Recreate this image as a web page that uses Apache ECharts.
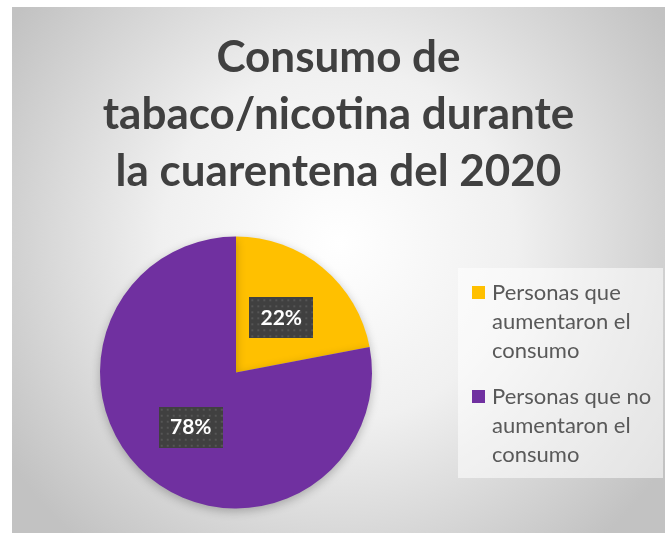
<!DOCTYPE html>
<html>
<head>
<meta charset="utf-8">
<script src="https://cdn.jsdelivr.net/npm/echarts@6/dist/echarts.min.js"></script>
<style>
html,body{margin:0;padding:0;background:#ffffff;}
#chart{position:absolute;left:12px;top:7px;width:653px;height:526px;}
</style>
</head>
<body>
<div id="chart"></div>
<script>
const titleLines = ['Consumo de', 'tabaco/nicotina durante', 'la cuarentena del 2020'];
const categories = ['Personas que aumentaron el consumo', 'Personas que no aumentaron el consumo'];
const legendLines = [['Personas que', 'aumentaron el', 'consumo'], ['Personas que no', 'aumentaron el', 'consumo']];
const values = [22, 78];
const colors = ['#FFC000', '#7030A0'];

function makePattern(w, h) {
  const c = document.createElement('canvas');
  c.width = w; c.height = h;
  const g = c.getContext('2d');
  g.fillStyle = '#404040';
  g.fillRect(0, 0, w, h);
  g.fillStyle = '#555555';
  for (let y = 2; y < h; y += 6) {
    for (let x = 2; x < w; x += 6) {
      g.fillRect(x, y, 2, 2);
    }
  }
  return c;
}
const pat = makePattern(64, 41);

// Leading blank lines keep the legend square beside the first text line
function legendText(name) {
  const lines = legendLines[categories.indexOf(name)];
  return '\n\n' + lines.join('\n');
}

const chart = echarts.init(document.getElementById('chart'));
chart.setOption({
  animation: false,
  backgroundColor: {
    type: 'radial', x: 0.5, y: 0.45, r: 0.75,
    colorStops: [
      {offset: 0, color: '#ffffff'},
      {offset: 0.45, color: '#f0f0f0'},
      {offset: 1, color: '#c2c2c2'}
    ]
  },
  title: {
    text: titleLines.join('\n'),
    left: 'center',
    top: 22,
    padding: [0, 0, 0, 13],
    textStyle: {
      fontFamily: 'Lato',
      fontWeight: 'bold',
      fontSize: 44,
      lineHeight: 57,
      color: '#404040'
    }
  },
  graphic: [{
    type: 'rect',
    left: 446, top: 261,
    shape: {width: 205, height: 210},
    style: {fill: 'rgba(255,255,255,0.55)'},
    z: -1
  }],
  legend: {
    orient: 'vertical',
    left: 460,
    top: 213,
    padding: 0,
    itemWidth: 13,
    itemHeight: 13,
    itemGap: -41,
    icon: 'rect',
    data: categories,
    formatter: legendText,
    textStyle: {
      fontFamily: 'Lato',
      fontSize: 22,
      lineHeight: 29,
      color: '#595959',
      padding: [0, 0, 0, 2]
    }
  },
  series: [{
    type: 'pie',
    center: [224, 365.5],
    radius: 136,
    startAngle: 90,
    clockwise: true,
    data: categories.map((n, i) => ({name: n, value: values[i], itemStyle: {color: colors[i]}})),
    itemStyle: {
      shadowBlur: 10,
      shadowColor: 'rgba(0,0,0,0.25)',
      shadowOffsetY: 3
    },
    label: {
      position: 'inside',
      formatter: '{d}%',
      fontFamily: 'Lato',
      fontWeight: 'bold',
      fontSize: 21,
      lineHeight: 21,
      color: '#ffffff',
      width: 44,
      align: 'center',
      padding: [10, 10],
      backgroundColor: {image: pat},
      shadowColor: 'rgba(0,0,0,0.45)',
      shadowBlur: 6,
      shadowOffsetX: 3,
      shadowOffsetY: 3
    },
    labelLine: {show: false},
    emphasis: {disabled: true}
  }]
});
</script>
</body>
</html>
